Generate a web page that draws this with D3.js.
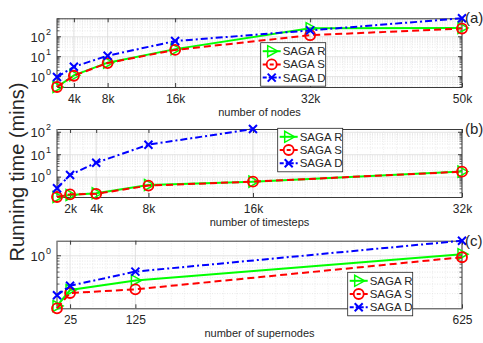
<!DOCTYPE html>
<html>
<head>
<meta charset="utf-8">
<script src="https://cdn.jsdelivr.net/npm/d3@7"></script>
<style>
  body { margin: 0; background: #fff; }
  text { font-family: "Liberation Sans", Arial, Helvetica, sans-serif; }
</style>
</head>
<body>
<div id="chart"></div>
<script>
// panel (a): number of nodes
const nodesX = [2000, 4000, 8000, 16000, 32000, 50000];
const nodesR = [0.3, 1.16, 5.0, 24, 270, 280];
const nodesS = [0.3, 1.1, 4.8, 22, 120, 260];
const nodesD = [0.95, 3.1, 11.2, 61, 210, 850];
const nodesTicks = [4000, 8000, 16000, 32000, 50000];
const nodesTickLabels = ["4k", "8k", "16k", "32k", "50k"];

// panel (b): number of timesteps
const stepsX = [1000, 2000, 4000, 8000, 16000, 32000];
const stepsR = [0.13, 0.16, 0.19, 0.45, 0.63, 1.76];
const stepsS = [0.13, 0.17, 0.18, 0.42, 0.63, 1.75];
const stepsD = [0.32, 1.25, 4.4, 28, 140];
const stepsTicks = [2000, 4000, 8000, 16000, 32000];
const stepsTickLabels = ["2k", "4k", "8k", "16k", "32k"];

// panel (c): number of supernodes
const superX = [5, 25, 125, 625];
const superR = [0.118, 0.233, 0.35, 1.07];
const superS = [0.107, 0.205, 0.24, 0.94];
const superD = [0.186, 0.28, 0.51, 1.9];
const superTicks = [25, 125, 625];
const superTickLabels = ["25", "125", "625"];

const seriesNames = ["SAGA R", "SAGA S", "SAGA D"];

const W = 483, H = 343;
const left = 57, right = 462;
const axisColor = "#3a3a3a";
const textColor = "#262626";

const styles = [
  { color: "#00ff00", dash: null, marker: "tri" },
  { color: "#ff0000", dash: "7,4", marker: "circle" },
  { color: "#0000ff", dash: "7,3,2,3", marker: "x" }
];

const svg = d3.select("#chart").append("svg")
  .attr("width", W).attr("height", H);

function drawMarker(g, type, x, y, color) {
  if (type === "circle") {
    g.append("circle").attr("cx", x).attr("cy", y).attr("r", 5)
      .attr("fill", "none").attr("stroke", color).attr("stroke-width", 1.8);
  } else if (type === "tri") {
    g.append("path")
      .attr("d", `M${x + 6},${y} L${x - 4},${y - 5.5} L${x - 4},${y + 5.5} Z`)
      .attr("fill", "none").attr("stroke", color).attr("stroke-width", 1.5);
  } else {
    g.append("path")
      .attr("d", `M${x - 4},${y - 4} L${x + 4},${y + 4} M${x - 4},${y + 4} L${x + 4},${y - 4}`)
      .attr("fill", "none").attr("stroke", color).attr("stroke-width", 2);
  }
}

function drawPanel(cfg) {
  const { top, bottom, xs, series, ticks, tickLabels, xlabel, tag, legendX, legendY } = cfg;
  const g = svg.append("g");

  const allY = series.flat();
  const x = d3.scaleLinear().domain(d3.extent(xs)).range([left, right]);
  const y = d3.scaleLog().domain(d3.extent(allY)).range([bottom, top]);

  // minor grid (log decades)
  const [y0, y1] = y.domain();
  const minor = [];
  for (let e = Math.floor(Math.log10(y0)); e <= Math.ceil(Math.log10(y1)); e++) {
    for (let m = 1; m < 10; m++) {
      const v = m * Math.pow(10, e);
      if (v >= y0 && v <= y1) minor.push({ v, major: m === 1 });
    }
  }
  g.selectAll(".minor").data(minor.filter(d => !d.major)).enter().append("line")
    .attr("x1", left).attr("x2", right)
    .attr("y1", d => y(d.v)).attr("y2", d => y(d.v))
    .attr("stroke", "#d6d6d6").attr("stroke-width", 0.6).attr("stroke-dasharray", "1,1.5");

  // vertical minor grid
  const xMinor = x.ticks(40);
  g.selectAll(".xminor").data(xMinor).enter().append("line")
    .attr("x1", d => x(d)).attr("x2", d => x(d))
    .attr("y1", top).attr("y2", bottom)
    .attr("stroke", "#e2e2e2").attr("stroke-width", 0.6).attr("stroke-dasharray", "1,1.5");

  // major grid
  const majors = minor.filter(d => d.major).map(d => d.v);
  g.selectAll(".ymaj").data(majors).enter().append("line")
    .attr("x1", left).attr("x2", right)
    .attr("y1", d => y(d)).attr("y2", d => y(d))
    .attr("stroke", "#dcdcdc").attr("stroke-width", 0.8);
  g.selectAll(".xmaj").data(ticks).enter().append("line")
    .attr("x1", d => x(d)).attr("x2", d => x(d))
    .attr("y1", top).attr("y2", bottom)
    .attr("stroke", "#dcdcdc").attr("stroke-width", 0.8);

  // axes with inward ticks
  const xAxisB = d3.axisBottom(x).tickValues(ticks).tickFormat((d, i) => tickLabels[i])
    .tickSizeInner(-4).tickSizeOuter(0).tickPadding(7);
  const xAxisT = d3.axisTop(x).tickValues(ticks).tickFormat("").tickSizeInner(-4).tickSizeOuter(0);
  const gxb = g.append("g").attr("transform", `translate(0,${bottom})`).call(xAxisB);
  const gxt = g.append("g").attr("transform", `translate(0,${top})`).call(xAxisT);
  [gxb, gxt].forEach(a => {
    a.select(".domain").attr("stroke", axisColor);
    a.selectAll(".tick line").attr("stroke", axisColor);
  });
  gxb.selectAll(".tick text").attr("fill", textColor).attr("font-size", 12)
    .attr("font-family", "Liberation Sans, Arial, sans-serif");

  const minorVals = minor.filter(d => !d.major).map(d => d.v);
  [[left, 1], [right, -1]].forEach(([px, dir]) => {
    g.append("line").attr("x1", px).attr("x2", px).attr("y1", top).attr("y2", bottom)
      .attr("stroke", axisColor).attr("stroke-width", 1);
    g.selectAll(null).data(majors).enter().append("line")
      .attr("x1", px).attr("x2", px + dir * 4)
      .attr("y1", d => y(d)).attr("y2", d => y(d))
      .attr("stroke", axisColor);
    g.selectAll(null).data(minorVals).enter().append("line")
      .attr("x1", px).attr("x2", px + dir * 2.5)
      .attr("y1", d => y(d)).attr("y2", d => y(d))
      .attr("stroke", axisColor).attr("stroke-width", 0.8);
  });

  // y tick labels 10^n
  majors.forEach(v => {
    const t = g.append("text").attr("x", 51).attr("y", y(v) + 5)
      .attr("text-anchor", "end").attr("fill", textColor).attr("font-size", 13);
    t.append("tspan").text("10");
    t.append("tspan").attr("dy", -7).attr("font-size", 9).attr("dx", 1)
      .text(String(Math.round(Math.log10(v))));
  });

  // series
  const line = d3.line().x(d => x(d[0])).y(d => y(d[1]));
  series.forEach((vals, i) => {
    const st = styles[i];
    const pts = vals.map((v, j) => [xs[j], v]);
    g.append("path").datum(pts).attr("d", line)
      .attr("fill", "none").attr("stroke", st.color).attr("stroke-width", 2)
      .attr("stroke-dasharray", st.dash);
    pts.forEach(p => drawMarker(g, st.marker, x(p[0]), y(p[1]), st.color));
  });

  // tag
  g.append("text").attr("x", right + 3).attr("y", top + 5)
    .attr("fill", textColor).attr("font-size", 15).text(tag);

  // x label
  g.append("text").attr("x", (left + right) / 2).attr("y", bottom + 29)
    .attr("text-anchor", "middle").attr("fill", textColor).attr("font-size", 11)
    .text(xlabel);

  // legend
  const lg = g.append("g").attr("transform", `translate(${legendX},${legendY})`);
  lg.append("rect").attr("width", 65).attr("height", 43.5)
    .attr("fill", "#fff").attr("stroke", "#222").attr("stroke-width", 0.8);
  seriesNames.forEach((name, i) => {
    const st = styles[i];
    const ly = 8.5 + i * 13.2;
    lg.append("line").attr("x1", 2).attr("x2", 20).attr("y1", ly).attr("y2", ly)
      .attr("stroke", st.color).attr("stroke-width", 2)
      .attr("stroke-dasharray", st.dash ? (i === 1 ? "4,3" : "4,2,2,2") : null);
    drawMarker(lg, st.marker, 11, ly, st.color);
    lg.append("text").attr("x", 22).attr("y", ly + 4)
      .attr("fill", textColor).attr("font-size", 11.5).text(name);
  });
}

drawPanel({
  top: 18.3, bottom: 87, xs: nodesX, series: [nodesR, nodesS, nodesD],
  ticks: nodesTicks, tickLabels: nodesTickLabels, xlabel: "number of nodes",
  tag: "(a)", legendX: 260.7, legendY: 42.7
});
drawPanel({
  top: 129, bottom: 197, xs: stepsX, series: [stepsR, stepsS, stepsD],
  ticks: stepsTicks, tickLabels: stepsTickLabels, xlabel: "number of timesteps",
  tag: "(b)", legendX: 277.7, legendY: 128.3
});
drawPanel({
  top: 240.7, bottom: 308.3, xs: superX, series: [superR, superS, superD],
  ticks: superTicks, tickLabels: superTickLabels, xlabel: "number of supernodes",
  tag: "(c)", legendX: 347.7, legendY: 272.3
});

// shared y label
svg.append("text")
  .attr("transform", "translate(24,172) rotate(-90)")
  .attr("text-anchor", "middle").attr("fill", textColor).attr("font-size", 20)
  .text("Running time (mins)");
</script>
</body>
</html>
